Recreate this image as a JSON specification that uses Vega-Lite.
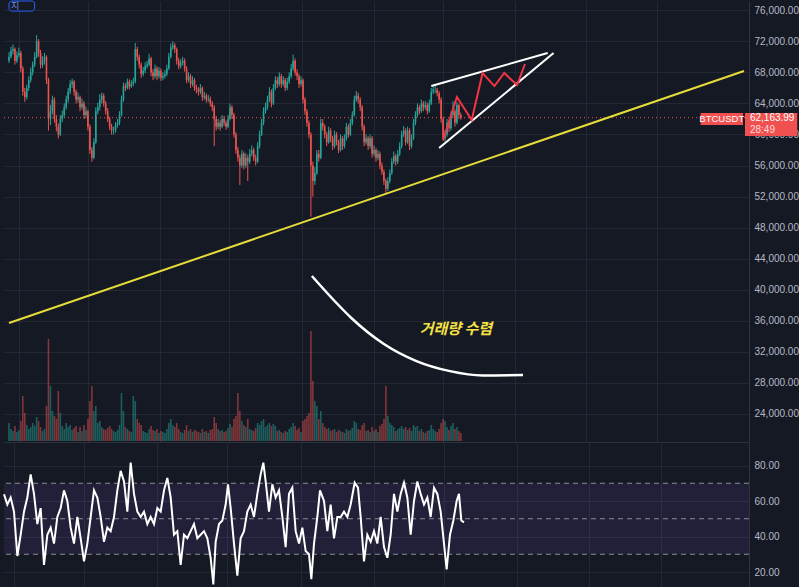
{
"$schema": "https://vega.github.io/schema/vega-lite/v6.json",
"background": "#151924",
"padding": 0,
"spacing": 0,
"config": {"view": {"stroke": null}, "axis": {"labelFont": "Liberation Sans", "labelFontSize": 10, "labelColor": "#b7bac4", "labelOverlap": false}},
"datasets": {
"candles": [
{"t":0,"o":69.5,"h":70.6,"l":69.2,"c":70,"v":18},{"t":1,"o":70,"h":71.3,"l":69.8,"c":70.8,"v":12},{"t":2,"o":70.8,"h":71.6,"l":70.3,"c":71,"v":10},{"t":3,"o":71,"h":71.2,"l":69,"c":69.5,"v":15},{"t":4,"o":69.5,"h":70.7,"l":69.2,"c":70.2,"v":9},{"t":5,"o":70.2,"h":71.2,"l":69.9,"c":70.5,"v":11},{"t":6,"o":70.5,"h":70.8,"l":68,"c":68.5,"v":20},{"t":7,"o":68.5,"h":68.8,"l":65,"c":65.5,"v":45},{"t":8,"o":65.5,"h":66,"l":64.2,"c":64.8,"v":28},{"t":9,"o":64.8,"h":66.4,"l":64.5,"c":66,"v":16},
{"t":10,"o":66,"h":67.5,"l":65.6,"c":67,"v":12},{"t":11,"o":67,"h":68.6,"l":66.7,"c":68,"v":14},{"t":12,"o":68,"h":69.4,"l":67.6,"c":69,"v":18},{"t":13,"o":69,"h":70.6,"l":68.7,"c":70,"v":15},{"t":14,"o":70,"h":72.8,"l":69.8,"c":72,"v":24},{"t":15,"o":72,"h":72.3,"l":70,"c":70.5,"v":20},{"t":16,"o":70.5,"h":70.9,"l":68.5,"c":69,"v":14},{"t":17,"o":69,"h":70.1,"l":68.6,"c":69.5,"v":10},{"t":18,"o":69.5,"h":70.5,"l":69,"c":70,"v":12},{"t":19,"o":70,"h":70.2,"l":66.5,"c":67,"v":35},
{"t":20,"o":67,"h":67.3,"l":60.5,"c":62,"v":102},{"t":21,"o":62,"h":63.8,"l":61.2,"c":63,"v":55},{"t":22,"o":63,"h":65,"l":62.6,"c":64.5,"v":30},{"t":23,"o":64.5,"h":64.8,"l":61.5,"c":62,"v":25},{"t":24,"o":62,"h":62.5,"l":60.4,"c":61,"v":22},{"t":25,"o":61,"h":61.4,"l":59.5,"c":60,"v":50},{"t":26,"o":60,"h":62.5,"l":59.8,"c":62,"v":28},{"t":27,"o":62,"h":63.1,"l":61.6,"c":62.5,"v":15},{"t":28,"o":62.5,"h":64,"l":62.2,"c":63.5,"v":12},{"t":29,"o":63.5,"h":65,"l":63.2,"c":64.5,"v":18},
{"t":30,"o":64.5,"h":66,"l":64.1,"c":65.5,"v":14},{"t":31,"o":65.5,"h":67,"l":65.2,"c":66.5,"v":16},{"t":32,"o":66.5,"h":67.2,"l":66,"c":66.8,"v":11},{"t":33,"o":66.8,"h":67,"l":65,"c":65.5,"v":13},{"t":34,"o":65.5,"h":65.8,"l":64,"c":64.5,"v":15},{"t":35,"o":64.5,"h":65.4,"l":64.1,"c":64.8,"v":9},{"t":36,"o":64.8,"h":65,"l":63,"c":63.5,"v":14},{"t":37,"o":63.5,"h":64.6,"l":63.2,"c":64,"v":10},{"t":38,"o":64,"h":64.3,"l":62,"c":62.5,"v":16},{"t":39,"o":62.5,"h":63.6,"l":62.1,"c":63,"v":11},
{"t":40,"o":63,"h":63.2,"l":60.5,"c":61,"v":22},{"t":41,"o":61,"h":61.3,"l":57.5,"c":58,"v":40},{"t":42,"o":58,"h":58.4,"l":56.5,"c":57,"v":55},{"t":43,"o":57,"h":59.5,"l":56.8,"c":59,"v":30},{"t":44,"o":59,"h":63.5,"l":58.8,"c":63,"v":35},{"t":45,"o":63,"h":64.1,"l":62.6,"c":63.5,"v":18},{"t":46,"o":63.5,"h":65.2,"l":63.1,"c":64.5,"v":20},{"t":47,"o":64.5,"h":65.4,"l":64,"c":65,"v":14},{"t":48,"o":65,"h":65.3,"l":63.6,"c":64,"v":12},{"t":49,"o":64,"h":64.3,"l":62.6,"c":63,"v":11},
{"t":50,"o":63,"h":63.4,"l":61.6,"c":62,"v":13},{"t":51,"o":62,"h":62.3,"l":60.6,"c":61,"v":15},{"t":52,"o":61,"h":61.4,"l":60,"c":60.5,"v":12},{"t":53,"o":60.5,"h":61,"l":60,"c":60.5,"v":10},{"t":54,"o":60.5,"h":61.6,"l":60.2,"c":61.2,"v":9},{"t":55,"o":61.2,"h":62,"l":60.9,"c":61.5,"v":11},{"t":56,"o":61.5,"h":63,"l":61.2,"c":62.5,"v":16},{"t":57,"o":62.5,"h":65,"l":62.3,"c":64.5,"v":48},{"t":58,"o":64.5,"h":66.7,"l":64.2,"c":66.2,"v":30},{"t":59,"o":66.2,"h":66.6,"l":65.6,"c":66,"v":14},
{"t":60,"o":66,"h":67.2,"l":65.8,"c":66.8,"v":12},{"t":61,"o":66.8,"h":67.1,"l":65.8,"c":66.2,"v":10},{"t":62,"o":66.2,"h":67,"l":66,"c":66.5,"v":9},{"t":63,"o":66.5,"h":67.3,"l":66.2,"c":66.8,"v":45},{"t":64,"o":66.8,"h":71.8,"l":66.6,"c":71,"v":40},{"t":65,"o":71,"h":71.3,"l":69.5,"c":70,"v":22},{"t":66,"o":70,"h":70.3,"l":68.5,"c":69,"v":18},{"t":67,"o":69,"h":69.3,"l":67.3,"c":67.8,"v":16},{"t":68,"o":67.8,"h":68.7,"l":67.5,"c":68.2,"v":10},{"t":69,"o":68.2,"h":69.3,"l":67.9,"c":68.8,"v":9},
{"t":70,"o":68.8,"h":69.5,"l":68.5,"c":69,"v":8},{"t":71,"o":69,"h":70.4,"l":68.8,"c":69.8,"v":12},{"t":72,"o":69.8,"h":70,"l":67.5,"c":68,"v":15},{"t":73,"o":68,"h":68.4,"l":67,"c":67.5,"v":11},{"t":74,"o":67.5,"h":69,"l":67.2,"c":68.5,"v":10},{"t":75,"o":68.5,"h":68.8,"l":67,"c":67.5,"v":12},{"t":76,"o":67.5,"h":68.7,"l":67.2,"c":68.2,"v":8},{"t":77,"o":68.2,"h":68.5,"l":66.9,"c":67.3,"v":10},{"t":78,"o":67.3,"h":68,"l":67,"c":67.5,"v":9},{"t":79,"o":67.5,"h":68.3,"l":67.2,"c":67.8,"v":8},
{"t":80,"o":67.8,"h":69,"l":67.5,"c":68.5,"v":12},{"t":81,"o":68.5,"h":70.5,"l":68.3,"c":70,"v":18},{"t":82,"o":70,"h":71.7,"l":69.8,"c":71.2,"v":22},{"t":83,"o":71.2,"h":72,"l":70.9,"c":71.5,"v":16},{"t":84,"o":71.5,"h":71.8,"l":70.5,"c":71,"v":14},{"t":85,"o":71,"h":71.2,"l":69,"c":69.5,"v":18},{"t":86,"o":69.5,"h":69.9,"l":68.4,"c":68.8,"v":12},{"t":87,"o":68.8,"h":69.7,"l":68.5,"c":69.2,"v":9},{"t":88,"o":69.2,"h":70,"l":68.9,"c":69.5,"v":8},{"t":89,"o":69.5,"h":69.8,"l":68.1,"c":68.5,"v":11},
{"t":90,"o":68.5,"h":68.8,"l":66.6,"c":67,"v":16},{"t":91,"o":67,"h":68,"l":66.7,"c":67.5,"v":10},{"t":92,"o":67.5,"h":67.8,"l":66,"c":66.5,"v":12},{"t":93,"o":66.5,"h":67.5,"l":66.2,"c":67,"v":9},{"t":94,"o":67,"h":67.3,"l":65.6,"c":66,"v":11},{"t":95,"o":66,"h":66.4,"l":65.3,"c":65.8,"v":10},{"t":96,"o":65.8,"h":66.1,"l":65,"c":65.5,"v":9},{"t":97,"o":65.5,"h":66.5,"l":65.2,"c":66,"v":8},{"t":98,"o":66,"h":66.2,"l":64.3,"c":64.8,"v":12},{"t":99,"o":64.8,"h":65.5,"l":64.5,"c":65,"v":9},
{"t":100,"o":65,"h":65.3,"l":64.1,"c":64.5,"v":10},{"t":101,"o":64.5,"h":65.1,"l":64.2,"c":64.6,"v":8},{"t":102,"o":64.6,"h":64.9,"l":63.6,"c":64,"v":11},{"t":103,"o":64,"h":64.3,"l":63,"c":63.5,"v":12},{"t":104,"o":63.5,"h":63.8,"l":58.5,"c":62,"v":24},{"t":105,"o":62,"h":62.4,"l":60.5,"c":61,"v":18},{"t":106,"o":61,"h":62,"l":60.7,"c":61.5,"v":12},{"t":107,"o":61.5,"h":61.9,"l":60.5,"c":61,"v":10},{"t":108,"o":61,"h":62.5,"l":60.8,"c":62,"v":11},{"t":109,"o":62,"h":62.4,"l":61.1,"c":61.5,"v":9},
{"t":110,"o":61.5,"h":61.8,"l":60.6,"c":61,"v":10},{"t":111,"o":61,"h":62.5,"l":60.8,"c":62,"v":13},{"t":112,"o":62,"h":64,"l":61.8,"c":63.5,"v":17},{"t":113,"o":63.5,"h":63.8,"l":62,"c":62.5,"v":14},{"t":114,"o":62.5,"h":62.8,"l":59.6,"c":60,"v":22},{"t":115,"o":60,"h":60.3,"l":57.5,"c":58,"v":25},{"t":116,"o":58,"h":58.4,"l":56.5,"c":57,"v":48},{"t":117,"o":57,"h":57.4,"l":53.5,"c":56,"v":30},{"t":118,"o":56,"h":58,"l":55.7,"c":57.5,"v":20},{"t":119,"o":57.5,"h":57.8,"l":55.5,"c":56,"v":16},
{"t":120,"o":56,"h":57.6,"l":55.7,"c":57,"v":14},{"t":121,"o":57,"h":57.4,"l":54,"c":56.5,"v":22},{"t":122,"o":56.5,"h":58.1,"l":56.2,"c":57.5,"v":12},{"t":123,"o":57.5,"h":58.6,"l":57.2,"c":58,"v":11},{"t":124,"o":58,"h":58.3,"l":56.6,"c":57,"v":10},{"t":125,"o":57,"h":57.4,"l":56,"c":56.5,"v":13},{"t":126,"o":56.5,"h":59,"l":56.3,"c":58.5,"v":18},{"t":127,"o":58.5,"h":60.5,"l":58.2,"c":60,"v":16},{"t":128,"o":60,"h":62,"l":59.8,"c":61.5,"v":20},{"t":129,"o":61.5,"h":63.5,"l":61.2,"c":63,"v":22},
{"t":130,"o":63,"h":64.1,"l":62.7,"c":63.5,"v":14},{"t":131,"o":63.5,"h":65,"l":63.2,"c":64.5,"v":16},{"t":132,"o":64.5,"h":66.1,"l":64.2,"c":65.5,"v":18},{"t":133,"o":65.5,"h":65.8,"l":63.5,"c":64,"v":15},{"t":134,"o":64,"h":66.5,"l":63.8,"c":66,"v":17},{"t":135,"o":66,"h":67.5,"l":65.7,"c":67,"v":15},{"t":136,"o":67,"h":67.4,"l":66,"c":66.5,"v":10},{"t":137,"o":66.5,"h":68,"l":66.2,"c":67.5,"v":11},{"t":138,"o":67.5,"h":67.8,"l":66,"c":66.5,"v":9},{"t":139,"o":66.5,"h":67.5,"l":66.2,"c":67,"v":8},
{"t":140,"o":67,"h":67.3,"l":65.6,"c":66,"v":10},{"t":141,"o":66,"h":67.3,"l":65.7,"c":66.8,"v":9},{"t":142,"o":66.8,"h":68,"l":66.5,"c":67.5,"v":12},{"t":143,"o":67.5,"h":69.1,"l":67.2,"c":68.5,"v":14},{"t":144,"o":68.5,"h":70.3,"l":68.2,"c":69.5,"v":18},{"t":145,"o":69.5,"h":69.8,"l":67.6,"c":68,"v":15},{"t":146,"o":68,"h":68.4,"l":67,"c":67.5,"v":11},{"t":147,"o":67.5,"h":67.8,"l":66,"c":66.5,"v":13},{"t":148,"o":66.5,"h":67.5,"l":66.2,"c":67,"v":9},{"t":149,"o":67,"h":67.2,"l":64,"c":64.5,"v":20},
{"t":150,"o":64.5,"h":64.8,"l":62.5,"c":63,"v":22},{"t":151,"o":63,"h":63.3,"l":61,"c":61.5,"v":25},{"t":152,"o":61.5,"h":61.8,"l":59.5,"c":60,"v":28},{"t":153,"o":60,"h":60.3,"l":49.4,"c":56,"v":110},{"t":154,"o":56,"h":56.5,"l":52,"c":54,"v":60},{"t":155,"o":54,"h":55.8,"l":53.5,"c":55,"v":40},{"t":156,"o":55,"h":58,"l":54.8,"c":57.5,"v":35},{"t":157,"o":57.5,"h":58,"l":56.5,"c":57,"v":22},{"t":158,"o":57,"h":62,"l":56.8,"c":61.5,"v":30},{"t":159,"o":61.5,"h":62,"l":60.5,"c":61,"v":18},
{"t":160,"o":61,"h":61.3,"l":59.5,"c":60,"v":14},{"t":161,"o":60,"h":60.3,"l":58.5,"c":59,"v":12},{"t":162,"o":59,"h":61,"l":58.8,"c":60.5,"v":13},{"t":163,"o":60.5,"h":60.8,"l":59,"c":59.5,"v":10},{"t":164,"o":59.5,"h":59.8,"l":58,"c":58.5,"v":11},{"t":165,"o":58.5,"h":60.5,"l":58.2,"c":60,"v":12},{"t":166,"o":60,"h":60.3,"l":58.6,"c":59,"v":9},{"t":167,"o":59,"h":59.3,"l":57.6,"c":58,"v":11},{"t":168,"o":58,"h":60,"l":57.8,"c":59.5,"v":10},{"t":169,"o":59.5,"h":59.8,"l":58,"c":58.5,"v":9},
{"t":170,"o":58.5,"h":60,"l":58.2,"c":59.5,"v":8},{"t":171,"o":59.5,"h":61.5,"l":59.2,"c":61,"v":12},{"t":172,"o":61,"h":61.3,"l":59.6,"c":60,"v":10},{"t":173,"o":60,"h":62,"l":59.8,"c":61.5,"v":11},{"t":174,"o":61.5,"h":63,"l":61.2,"c":62.5,"v":13},{"t":175,"o":62.5,"h":65,"l":62.3,"c":64.5,"v":20},{"t":176,"o":64.5,"h":65.6,"l":64.2,"c":65,"v":18},{"t":177,"o":65,"h":65.4,"l":64,"c":64.5,"v":12},{"t":178,"o":64.5,"h":64.8,"l":63,"c":63.5,"v":11},{"t":179,"o":63.5,"h":63.8,"l":60.5,"c":61,"v":16},
{"t":180,"o":61,"h":61.3,"l":58.5,"c":59,"v":18},{"t":181,"o":59,"h":60,"l":58.7,"c":59.5,"v":10},{"t":182,"o":59.5,"h":59.8,"l":58,"c":58.5,"v":11},{"t":183,"o":58.5,"h":60,"l":58.2,"c":59.5,"v":9},{"t":184,"o":59.5,"h":59.8,"l":57,"c":57.5,"v":14},{"t":185,"o":57.5,"h":58.6,"l":57.2,"c":58,"v":10},{"t":186,"o":58,"h":58.3,"l":56.5,"c":57,"v":12},{"t":187,"o":57,"h":58,"l":56.7,"c":57.5,"v":9},{"t":188,"o":57.5,"h":57.8,"l":55.5,"c":56,"v":15},{"t":189,"o":56,"h":56.4,"l":54.8,"c":55.2,"v":17},
{"t":190,"o":55.2,"h":55.5,"l":53.5,"c":54,"v":22},{"t":191,"o":54,"h":54.3,"l":52.3,"c":53,"v":55},{"t":192,"o":53,"h":54.5,"l":52.7,"c":54,"v":25},{"t":193,"o":54,"h":55.5,"l":53.7,"c":55,"v":18},{"t":194,"o":55,"h":57,"l":54.8,"c":56.5,"v":16},{"t":195,"o":56.5,"h":57.8,"l":56.2,"c":57.2,"v":14},{"t":196,"o":57.2,"h":57.5,"l":56,"c":56.5,"v":10},{"t":197,"o":56.5,"h":58,"l":56.2,"c":57.5,"v":12},{"t":198,"o":57.5,"h":59,"l":57.2,"c":58.5,"v":13},{"t":199,"o":58.5,"h":60.5,"l":58.2,"c":60,"v":15},
{"t":200,"o":60,"h":61.1,"l":59.7,"c":60.5,"v":12},{"t":201,"o":60.5,"h":60.8,"l":58.6,"c":59,"v":14},{"t":202,"o":59,"h":61,"l":58.8,"c":60.5,"v":11},{"t":203,"o":60.5,"h":60.8,"l":58,"c":58.5,"v":13},{"t":204,"o":58.5,"h":60,"l":58.2,"c":59.5,"v":10},{"t":205,"o":59.5,"h":62,"l":59.3,"c":61.5,"v":16},{"t":206,"o":61.5,"h":63,"l":61.2,"c":62.5,"v":14},{"t":207,"o":62.5,"h":64,"l":62.2,"c":63.5,"v":15},{"t":208,"o":63.5,"h":63.8,"l":62.6,"c":63,"v":10},{"t":209,"o":63,"h":64.5,"l":62.8,"c":64,"v":12},
{"t":210,"o":64,"h":64.3,"l":63,"c":63.5,"v":9},{"t":211,"o":63.5,"h":64.3,"l":63.2,"c":63.8,"v":8},{"t":212,"o":63.8,"h":64.1,"l":62.6,"c":63,"v":10},{"t":213,"o":63,"h":64.5,"l":62.8,"c":64,"v":11},{"t":214,"o":64,"h":66,"l":63.8,"c":65.5,"v":16},{"t":215,"o":65.5,"h":66.2,"l":65.2,"c":65.8,"v":12},{"t":216,"o":65.8,"h":66.3,"l":65.3,"c":65.8,"v":10},{"t":217,"o":65.8,"h":66,"l":64.9,"c":65.3,"v":9},{"t":218,"o":65.3,"h":65.6,"l":64,"c":64.5,"v":12},{"t":219,"o":64.5,"h":64.8,"l":61.5,"c":62,"v":18},
{"t":220,"o":62,"h":62.3,"l":59.2,"c":59.5,"v":22},{"t":221,"o":59.5,"h":60.6,"l":59.1,"c":60,"v":20},{"t":222,"o":60,"h":62,"l":59.7,"c":61.5,"v":14},{"t":223,"o":61.5,"h":61.8,"l":60.3,"c":60.8,"v":11},{"t":224,"o":60.8,"h":63,"l":60.5,"c":62.5,"v":15},{"t":225,"o":62.5,"h":64.3,"l":62.2,"c":63,"v":18},{"t":226,"o":63,"h":63.3,"l":61,"c":61.5,"v":12},{"t":227,"o":61.5,"h":64.2,"l":61.3,"c":63.8,"v":14},{"t":228,"o":63.8,"h":64,"l":62,"c":62.5,"v":10},{"t":229,"o":62.5,"h":62.8,"l":61.9,"c":62.16,"v":8}
],
"ann": [
{"g":"trend","t":0,"p":35.7},{"g":"trend","t":372.5,"p":68.18},
{"g":"up","t":214,"p":66.24},{"g":"up","t":273,"p":70.5},
{"g":"low","t":218,"p":58.25},{"g":"low","t":276,"p":70.5},
{"g":"zig","t":220,"p":59.29},{"g":"zig","t":227,"p":64.83},{"g":"zig","t":234.5,"p":61.86},{"g":"zig","t":240,"p":67.92},{"g":"zig","t":246,"p":66.24},{"g":"zig","t":251,"p":67.92},{"g":"zig","t":257.5,"p":66.37},{"g":"zig","t":261.5,"p":69.08}
],
"arc": [
{"t":153.5,"p":41.76},{"t":165,"p":38.54},{"t":173.5,"p":36.35},{"t":190,"p":33.0},{"t":206.5,"p":30.8},{"t":223.5,"p":29.5},{"t":240,"p":28.95},{"t":260.5,"p":29.0}
],
"rsi": [
{"t":0,"r":63.8},{"t":1.67,"r":58},{"t":3.33,"r":62},{"t":5,"r":54},{"t":6.67,"r":29},{"t":8.33,"r":41},{"t":10,"r":54},{"t":11.67,"r":62},{"t":13.33,"r":75},{"t":15,"r":64},{"t":16.67,"r":47},{"t":18.33,"r":56},{"t":20,"r":24},{"t":21.67,"r":41},{"t":23.33,"r":45},{"t":25,"r":36},{"t":26.67,"r":51},{"t":28.33,"r":56},{"t":30,"r":66},{"t":31.67,"r":60},{"t":33.33,"r":45},{"t":35,"r":36},{"t":36.67,"r":51},{"t":38.33,"r":39},{"t":40,"r":26},{"t":41.67,"r":36},{"t":43.33,"r":51},{"t":45,"r":66},{"t":46.67,"r":62},{"t":48.33,"r":51},{"t":50,"r":37},{"t":51.67,"r":45},{"t":53.33,"r":43},{"t":55,"r":51},{"t":56.67,"r":66},{"t":58.33,"r":77},{"t":60,"r":71},{"t":61.67,"r":54},{"t":63.33,"r":81.6},{"t":65,"r":64},{"t":66.67,"r":54},{"t":68.33,"r":51},{"t":70,"r":54},{"t":71.67,"r":47},{"t":73.33,"r":51},{"t":75,"r":47},{"t":76.67,"r":56},{"t":78.33,"r":54},{"t":80,"r":66},{"t":81.67,"r":73},{"t":83.33,"r":62},{"t":85,"r":41},{"t":86.67,"r":43},{"t":88.33,"r":24},{"t":90,"r":41},{"t":91.67,"r":39},{"t":93.33,"r":43},{"t":95,"r":47},{"t":96.67,"r":39},{"t":98.33,"r":41},{"t":100,"r":43},{"t":101.67,"r":39},{"t":103.33,"r":28},{"t":104.67,"r":13},{"t":105.83,"r":37},{"t":107.5,"r":47},{"t":109.17,"r":49},{"t":110.83,"r":58},{"t":112,"r":69.4},{"t":113.33,"r":56},{"t":115,"r":36},{"t":116.67,"r":18},{"t":118.33,"r":39},{"t":120,"r":43},{"t":121.67,"r":54},{"t":123.33,"r":58},{"t":125,"r":51},{"t":126.67,"r":64},{"t":128.33,"r":75},{"t":129.67,"r":81.6},{"t":130.83,"r":71},{"t":132.5,"r":54},{"t":134.17,"r":69.4},{"t":135.83,"r":62},{"t":137.5,"r":66},{"t":139.17,"r":51},{"t":140.83,"r":34},{"t":142.5,"r":64},{"t":144.17,"r":67.5},{"t":145.83,"r":43},{"t":147.5,"r":36},{"t":149.17,"r":45},{"t":150.83,"r":31.8},{"t":152.5,"r":30},{"t":153.67,"r":16},{"t":155,"r":36},{"t":156.67,"r":51},{"t":158,"r":66},{"t":160,"r":60},{"t":161.67,"r":43},{"t":163.33,"r":58},{"t":165,"r":39},{"t":166.67,"r":51},{"t":168.33,"r":51},{"t":170,"r":54},{"t":171.67,"r":51},{"t":173.33,"r":58},{"t":175.33,"r":70.3},{"t":177,"r":67.5},{"t":178.33,"r":51},{"t":180,"r":26},{"t":181.67,"r":41},{"t":183.33,"r":37},{"t":185,"r":43},{"t":186.67,"r":36},{"t":188.33,"r":51},{"t":190,"r":34},{"t":191.67,"r":28},{"t":193.33,"r":41},{"t":195,"r":64},{"t":196.67,"r":54},{"t":198.33,"r":64},{"t":200,"r":70.3},{"t":201.67,"r":62},{"t":203.33,"r":41},{"t":205,"r":60},{"t":206.67,"r":71},{"t":208.33,"r":64},{"t":210,"r":58},{"t":211.67,"r":62},{"t":213.33,"r":51},{"t":215,"r":67.5},{"t":216.67,"r":64},{"t":218.33,"r":54},{"t":220,"r":36},{"t":221.33,"r":21.5},{"t":223,"r":41},{"t":224.67,"r":49},{"t":226.33,"r":60},{"t":227.5,"r":64},{"t":228.67,"r":49},{"t":230,"r":48}
]
},
"vconcat": [
{
"width": 745, "height": 441,
"resolve": {"scale": {"y": "independent"}},
"layer": [
{"data": {"name": "candles"}, "mark": {"type": "bar", "size": 1.6, "opacity": 0.5},
 "encoding": {
  "x": {"field": "t", "type": "quantitative", "title": null, "scale": {"domain": [0, 372.5], "nice": false, "zero": false},
        "axis": {"values": [5, 40, 76.5, 111.5, 148.5, 185, 220, 256.5, 292.5, 328.5], "tickCount": 30, "labels": false, "ticks": false, "domain": true, "domainColor": "#2d313d", "grid": true, "gridColor": "#242835", "title": null}},
  "y": {"field": "v", "type": "quantitative", "title": null, "scale": {"domain": [-1, 440], "nice": false, "zero": false}, "axis": null},
  "y2": {"datum": 0},
  "color": {"condition": {"test": "datum.c >= datum.o", "value": "#26a69a"}, "value": "#ef5350"}
 }},
{"layer": [
 {"data": {"name": "candles"}, "mark": {"type": "rule", "strokeWidth": 1},
  "encoding": {
   "x": {"field": "t", "type": "quantitative", "title": null, "scale": {"domain": [0, 372.5], "nice": false, "zero": false}},
   "y": {"field": "l", "type": "quantitative", "title": null, "scale": {"domain": [20.37, 77.2], "nice": false, "zero": false},
         "axis": {"orient": "right", "values": [24, 28, 32, 36, 40, 44, 48, 52, 56, 60, 64, 68, 72, 76], "tickCount": 30, "labelExpr": "format(datum.value*1000, ',.2f')", "labelOverlap": false, "grid": true, "gridColor": "#242835", "ticks": false, "domain": true, "domainColor": "#2f3340", "labelPadding": 5, "title": null}},
   "y2": {"field": "h"},
   "color": {"condition": {"test": "datum.c >= datum.o", "value": "#26a69a"}, "value": "#ef5350"}
  }},
 {"data": {"name": "candles"}, "mark": {"type": "bar", "size": 1.6},
  "encoding": {
   "x": {"field": "t", "type": "quantitative", "title": null},
   "y": {"field": "o", "type": "quantitative", "title": null},
   "y2": {"field": "c"},
   "color": {"condition": {"test": "datum.c >= datum.o", "value": "#26a69a"}, "value": "#ef5350"}
  }},
 {"data": {"values": [{"p": 62.16}]}, "mark": {"type": "rule", "strokeDash": [1, 3], "color": "#ef5350", "strokeWidth": 1},
  "encoding": {"y": {"field": "p", "type": "quantitative", "title": null}}},
 {"data": {"name": "ann"}, "mark": {"type": "line", "strokeWidth": 2},
  "encoding": {
   "x": {"field": "t", "type": "quantitative", "title": null},
   "y": {"field": "p", "type": "quantitative", "title": null},
   "color": {"field": "g", "type": "nominal", "legend": null, "scale": {"domain": ["trend", "up", "low", "zig"], "range": ["#e6dc3a", "#ffffff", "#ffffff", "#f23645"]}}
  }},
 {"data": {"name": "arc"}, "mark": {"type": "line", "strokeWidth": 2.5, "color": "#ffffff", "interpolate": "monotone"},
  "encoding": {
   "x": {"field": "t", "type": "quantitative", "title": null},
   "y": {"field": "p", "type": "quantitative", "title": null}
  }},
 {"data": {"values": [{}]}, "mark": {"type": "text", "font": "Noto Sans CJK KR", "fontSize": 15, "fontWeight": "bold", "fontStyle": "italic", "color": "#f5e244"},
  "encoding": {"x": {"datum": 226.5}, "y": {"datum": 34.93}, "text": {"value": "거래량 수렴"}}},
 {"data": {"values": [{}]}, "mark": {"type": "rect", "fill": "#151924", "stroke": "#2962ff", "strokeWidth": 1, "cornerRadius": 3},
  "encoding": {"x": {"datum": 0}, "x2": {"datum": 13}, "y": {"datum": 75.9}, "y2": {"datum": 77.2}}},
 {"data": {"values": [{}]}, "mark": {"type": "text", "color": "#6f8fe8", "font": "Noto Sans CJK KR", "fontSize": 9, "align": "left"},
  "encoding": {"x": {"datum": 1}, "y": {"datum": 76.6}, "text": {"value": "지"}}},
 {"data": {"values": [{}]}, "mark": {"type": "rect", "color": "#f0504f"},
  "encoding": {"x": {"datum": 350.5}, "x2": {"datum": 372}, "y": {"datum": 61.22}, "y2": {"datum": 62.77}}},
 {"data": {"values": [{}]}, "mark": {"type": "text", "color": "#ffffff", "font": "Liberation Sans", "fontSize": 9.5},
  "encoding": {"x": {"datum": 361.25}, "y": {"datum": 61.97}, "text": {"value": "BTCUSDT"}}},
 {"data": {"values": [{}]}, "mark": {"type": "rect", "color": "#f0504f"},
  "encoding": {"x": {"datum": 373}, "x2": {"datum": 399.5}, "y": {"datum": 59.8}, "y2": {"datum": 62.77}}},
 {"data": {"values": [{}]}, "mark": {"type": "text", "color": "#ffffff", "align": "left", "font": "Liberation Sans", "fontSize": 10},
  "encoding": {"x": {"datum": 375.5}, "y": {"datum": 62.12}, "text": {"value": "62,163.99"}}},
 {"data": {"values": [{}]}, "mark": {"type": "text", "color": "#ffd9d9", "align": "left", "font": "Liberation Sans", "fontSize": 10},
  "encoding": {"x": {"datum": 375.5}, "y": {"datum": 60.57}, "text": {"value": "28:49"}}}
]}
]
},
{
"width": 745, "height": 146,
"layer": [
 {"data": {"values": [{}]}, "mark": {"type": "rect", "color": "#7e57c2", "opacity": 0.13},
  "encoding": {
   "x": {"datum": 0, "type": "quantitative", "scale": {"domain": [0, 372.5], "nice": false, "zero": false}},
   "x2": {"datum": 372.5},
   "y": {"datum": 30, "type": "quantitative", "scale": {"domain": [10.99, 93.24], "nice": false, "zero": false}},
   "y2": {"datum": 70}
  }},
 {"data": {"values": [{"r": 70}, {"r": 50}, {"r": 30}]}, "mark": {"type": "rule", "strokeDash": [5, 4], "color": "#8a8d99", "strokeWidth": 1},
  "encoding": {"y": {"field": "r", "type": "quantitative", "title": null}}},
 {"data": {"name": "rsi"}, "mark": {"type": "line", "color": "#ffffff", "strokeWidth": 2},
  "encoding": {
   "x": {"field": "t", "type": "quantitative", "title": null,
         "axis": {"values": [5, 40, 76.5, 111.5, 148.5, 185, 220, 256.5, 292.5, 328.5], "tickCount": 30, "labels": false, "ticks": false, "domain": false, "grid": true, "gridColor": "#242835", "title": null}},
   "y": {"field": "r", "type": "quantitative", "title": null,
         "axis": {"orient": "right", "values": [20, 40, 60, 80], "format": ".2f", "grid": true, "gridColor": "#242835", "ticks": false, "domain": true, "domainColor": "#2f3340", "labelPadding": 5, "title": null}}
  }}
]
}
]
}
